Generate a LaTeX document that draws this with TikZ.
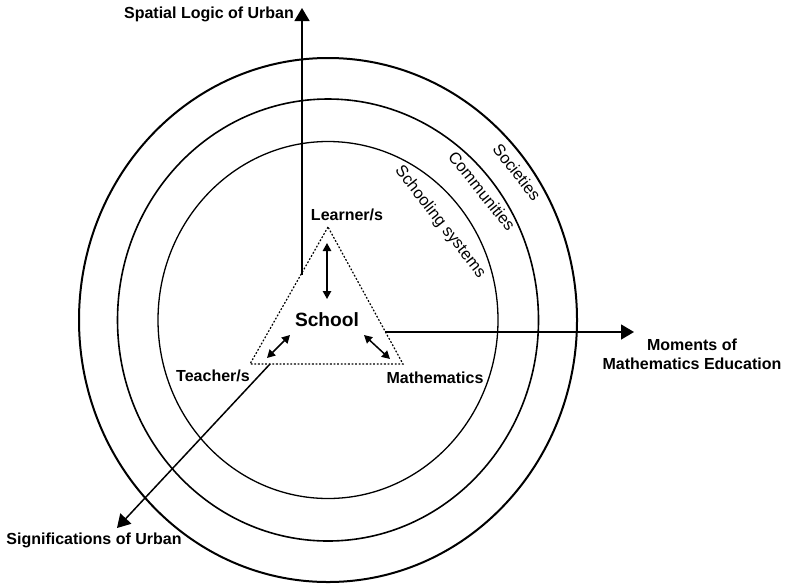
\documentclass[tikz,border=0pt]{standalone}
\usepackage{fontspec}
\setmainfont{Liberation Sans}
\usetikzlibrary{arrows.meta,positioning}

\begin{document}
\begin{tikzpicture}
[x=0.5pt,y=-0.5pt,
 axisDecorate/.style={-{Triangle[length=6.5pt,width=7.5pt]},line width=0.75pt},
 linkDecorate/.style={{Triangle[length=4pt,width=4.2pt]}-{Triangle[length=4pt,width=4.2pt]},line width=0.75pt},
 labelDecorate/.style={font=\fontsize{8}{9.6}\selectfont\bfseries,inner sep=0pt,align=center},
 ringDecorate/.style={font=\fontsize{8.2}{10}\selectfont,inner sep=0pt}]

\useasboundingbox (0,0) rectangle (785,584);

% rings
\foreach \rx/\ry/\lw in {249/262/1.0, 210.5/221/0.8, 170/178.5/0.65}
 {
   \draw[line width=\lw pt] (328,320) ellipse [x radius=\rx, y radius=\ry];
 }

\node[ringDecorate, rotate=-52] (societies) at (517,172) {Societies};
\node[ringDecorate, rotate=-51] (communities) at (482,191) {Communities};
\node[ringDecorate, rotate=-52] (schooling) at (440,222) {Schooling systems};

% triangle
\coordinate (apex) at (328,227);
\coordinate (baseL) at (250,364);
\coordinate (baseR) at (403,364);
\draw[dash pattern=on 0.9pt off 0.9pt, line width=0.6pt] (apex) -- (baseL) -- (baseR) -- cycle;

\node[labelDecorate] (learner) at (347,215) {Learner/s};
\node[labelDecorate, font=\fontsize{9.6}{11}\selectfont\bfseries] (school) at (327,320) {School};
\node[labelDecorate] (teacher) at (213,376) {Teacher/s};
\node[labelDecorate] (maths) at (435,378) {Mathematics};

% axes
\node[labelDecorate] (spatial) at (209,14) {Spatial Logic of Urban};
\node[labelDecorate] (moments) at (692,354) {Moments of\\Mathematics Education};
\node[labelDecorate] (signif) at (94,540) {Significations of Urban};

\coordinate (spatialTail) at (302,275);
\coordinate (spatialTip) at (302,8);
\coordinate (momentsTail) at (385,332);
\coordinate (momentsTip) at (634,332);
\coordinate (signifTail) at (270,364);
\coordinate (signifTip) at (117,528);

\foreach \axis in {spatial,moments,signif}
 {
   \draw[axisDecorate] (\axis Tail) -- (\axis Tip);
 }

% links inside the triangle
\coordinate (learnerEnd) at (327,243);
\coordinate (schoolTop) at (327,299);
\coordinate (teacherEnd) at (267,358);
\coordinate (schoolLeft) at (290,335);
\coordinate (schoolRight) at (364,335);
\coordinate (mathsEnd) at (390,359);

\path
\foreach \startnode/\endnode in {learnerEnd/schoolTop,teacherEnd/schoolLeft,schoolRight/mathsEnd}
        {
          (\startnode) edge[linkDecorate] (\endnode)
        };
\end{tikzpicture}
\end{document}
